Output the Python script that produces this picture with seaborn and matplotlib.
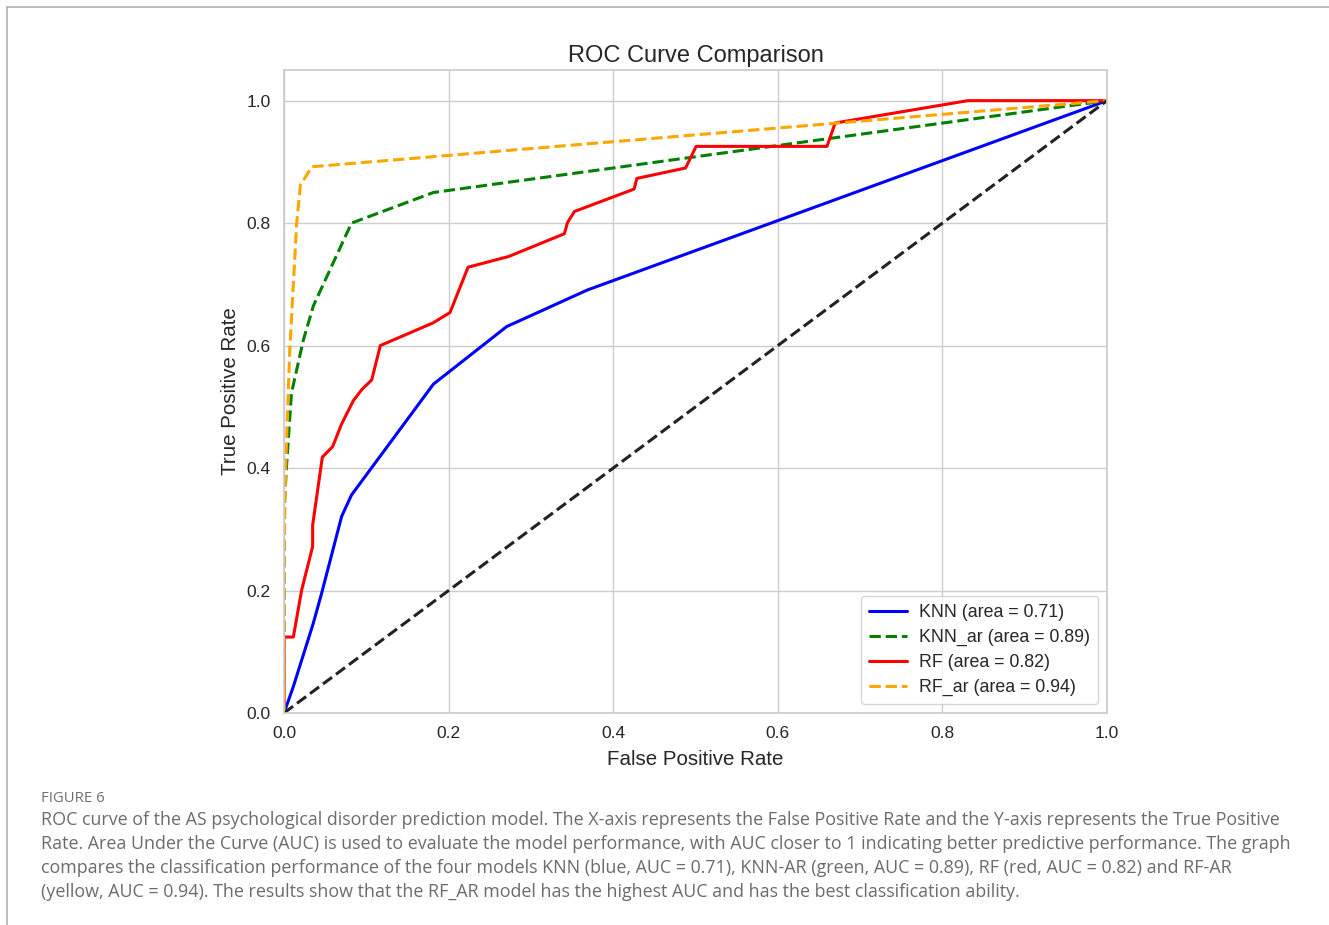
import numpy as np
import matplotlib
matplotlib.use("Agg")
import matplotlib.pyplot as plt
from matplotlib.lines import Line2D
import pandas as pd
import seaborn as sns

# ROC points
knn_fpr = [0.0, 0.0113, 0.0356, 0.0458, 0.070, 0.082, 0.1815, 0.2705, 0.369, 1.0]
knn_tpr = [0.0, 0.043, 0.1466, 0.196, 0.321, 0.356, 0.537, 0.631, 0.691, 1.0]

knn_ar_fpr = [0.0, 0.0, 0.003, 0.009, 0.0235, 0.0357, 0.082, 0.1815, 1.0]
knn_ar_tpr = [0.0, 0.33, 0.402, 0.522, 0.609, 0.665, 0.800, 0.850, 1.0]

rf_fpr = [0.0, 0.0, 0.0113, 0.0215, 0.0348, 0.0348, 0.0466, 0.0591, 0.070, 0.0842,
          0.0944, 0.1066, 0.117, 0.181, 0.2017, 0.2236, 0.273, 0.3406, 0.3445,
          0.3529, 0.4254, 0.4287, 0.4879, 0.5007, 0.6597, 0.6697, 0.831, 1.0]
rf_tpr = [0.0, 0.124, 0.124, 0.201, 0.272, 0.307, 0.418, 0.435, 0.472, 0.510,
          0.528, 0.544, 0.600, 0.637, 0.654, 0.728, 0.7455, 0.7826, 0.801,
          0.819, 0.8556, 0.873, 0.890, 0.9253, 0.9253, 0.9635, 1.0, 1.0]

rf_ar_fpr = [0.0, 0.0, 0.002, 0.007, 0.0154, 0.020, 0.0255, 0.0336, 1.0]
rf_ar_tpr = [0.0, 0.26, 0.402, 0.593, 0.800, 0.863, 0.874, 0.892, 1.0]

diag = [0.0, 1.0]

models = ["KNN", "KNN_ar", "RF", "RF_ar"]
aucs = [0.71, 0.89, 0.82, 0.94]
colors = ["blue", "green", "red", "orange"]
styles = ["-", "--", "-", "--"]
curves = [(knn_fpr, knn_tpr), (knn_ar_fpr, knn_ar_tpr), (rf_fpr, rf_tpr), (rf_ar_fpr, rf_ar_tpr)]

caption_head = "FIGURE 6"
caption_lines = [
    "ROC curve of the AS psychological disorder prediction model. The X-axis represents the False Positive Rate and the Y-axis represents the True Positive",
    "Rate. Area Under the Curve (AUC) is used to evaluate the model performance, with AUC closer to 1 indicating better predictive performance. The graph",
    "compares the classification performance of the four models KNN (blue, AUC = 0.71), KNN-AR (green, AUC = 0.89), RF (red, AUC = 0.82) and RF-AR",
    "(yellow, AUC = 0.94). The results show that the RF_AR model has the highest AUC and has the best classification ability.",
]

sns.set_theme(style="whitegrid")
plt.rcParams["font.family"] = ["Liberation Sans", "DejaVu Sans"]

fig = plt.figure(figsize=(13.29, 9.25), dpi=100)
ax = fig.add_axes([0.2137, 0.2292, 0.6193, 0.6951])

for (fpr, tpr), name, auc, c, ls in zip(curves, models, aucs, colors, styles):
    df = pd.DataFrame({"fpr": fpr, "tpr": tpr})
    sns.lineplot(data=df, x="fpr", y="tpr", sort=False, estimator=None, ax=ax,
                 color=c, linestyle=ls, lw=2.2, label=f"{name} (area = {auc:.2f})")

ax.plot(diag, diag, color="#222222", linestyle="--", lw=2.2)

ax.set_xlim(0, 1)
ax.set_ylim(0, 1.05)
ax.set_xticks([0, 0.2, 0.4, 0.6, 0.8, 1.0])
ax.set_yticks([0, 0.2, 0.4, 0.6, 0.8, 1.0])
ax.tick_params(labelsize=12.5, colors="#262626")
ax.set_title("ROC Curve Comparison", fontsize=17, color="#262626", pad=6)
ax.set_xlabel("False Positive Rate", fontsize=14.8, color="#262626", labelpad=6)
ax.set_ylabel("True Positive Rate", fontsize=14.8, color="#262626", labelpad=5)
ax.legend(loc="lower right", fontsize=12.8, handlelength=2.1, borderpad=0.45,
          labelspacing=0.45, handletextpad=0.7)

# page frame lines
fig.add_artist(Line2D([7 / 1329, 1], [1 - 7 / 925, 1 - 7 / 925], color="#b0b0b0", lw=1.2))
fig.add_artist(Line2D([7 / 1329, 7 / 1329], [0, 1 - 7 / 925], color="#b0b0b0", lw=1.2))

fig.text(41 / 1329, 1 - 798 / 925, caption_head, fontsize=10.7, color="#6e6e6e",
         family="Open Sans", va="center", ha="left")
for i, line in enumerate(caption_lines):
    fig.text(41 / 1329, 1 - (820 + 24 * i) / 925, line, fontsize=12.9, color="#6b6b6b",
             family="Open Sans", va="center", ha="left")

fig.savefig("out.png", dpi=100)
